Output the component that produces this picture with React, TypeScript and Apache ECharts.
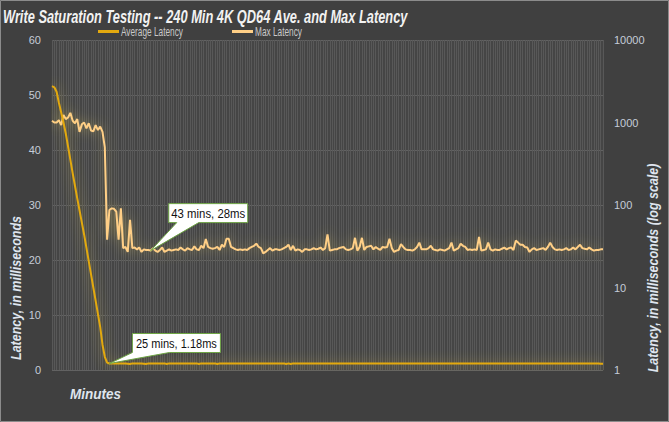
import React, { useEffect, useRef } from 'react';
import * as echarts from 'echarts';

const titleText = 'Write Saturation Testing -- 240 Min 4K QD64 Ave. and Max Latency';
const seriesNames = ['Average Latency', 'Max Latency'];
const leftTitle = 'Latency, in milliseconds';
const rightTitle = 'Latency, in milliseconds (log scale)';
const xTitle = 'Minutes';

// minute categories 0..240
const minutes: string[] = Array.from({ length: 241 }, (_, i) => String(i));

// Average latency (ms), left linear axis
const avgLatency: number[] = [
  51.6, 51.4, 50.6, 48.6, 46.8, 45.0, 43.0, 40.6, 38.2, 35.8,
  33.5, 31.2, 29.0, 26.8, 24.6, 22.2, 19.8, 17.4, 15.0, 12.6,
  10.2, 7.8, 4.6, 2.4, 1.35, 1.18,
  1.2, 1.2, 1.2, 1.2, 1.2, 1.2, 1.2, 1.15, 1.1, 1.2, 1.2, 1.2, 1.2, 1.2, 1.15, 1.1, 1.2, 1.2, 1.2, 1.2,
  1.2, 1.2, 1.2, 1.2, 1.1, 1.2, 1.2, 1.2, 1.2, 1.2, 1.2, 1.2, 1.2, 1.2, 1.2, 1.2, 1.2, 1.2, 1.1, 1.2,
  1.2, 1.2, 1.2, 1.2, 1.2, 1.2, 1.1, 1.2, 1.2, 1.2, 1.2, 1.2, 1.2, 1.2, 1.2, 1.2, 1.2, 1.2, 1.2, 1.2,
  1.2, 1.2, 1.2, 1.2, 1.2, 1.2, 1.2, 1.2, 1.2, 1.2, 1.2, 1.2, 1.2, 1.2, 1.2, 1.2, 1.1, 1.2, 1.1, 1.2,
  1.2, 1.2, 1.2, 1.2, 1.2, 1.2, 1.2, 1.2, 1.2, 1.2, 1.2, 1.2, 1.2, 1.2, 1.2, 1.2, 1.2, 1.2, 1.2, 1.2,
  1.2, 1.2, 1.2, 1.2, 1.2, 1.2, 1.2, 1.2, 1.2, 1.2, 1.2, 1.2, 1.2, 1.2, 1.2, 1.2, 1.2, 1.2, 1.2, 1.2,
  1.2, 1.2, 1.2, 1.2, 1.2, 1.2, 1.2, 1.2, 1.2, 1.2, 1.2, 1.2, 1.2, 1.2, 1.2, 1.2, 1.2, 1.2, 1.2, 1.2,
  1.2, 1.2, 1.2, 1.2, 1.2, 1.2, 1.2, 1.2, 1.2, 1.2, 1.2, 1.2, 1.2, 1.2, 1.2, 1.2, 1.2, 1.2, 1.2, 1.2,
  1.2, 1.2, 1.2, 1.2, 1.2, 1.2, 1.2, 1.2, 1.2, 1.2, 1.2, 1.2, 1.2, 1.2, 1.2, 1.2, 1.2, 1.2, 1.2, 1.2,
  1.2, 1.2, 1.2, 1.2, 1.2, 1.2, 1.2, 1.2, 1.2, 1.2, 1.2, 1.2, 1.2, 1.2, 1.2, 1.2, 1.2, 1.2, 1.2, 1.2,
  1.2, 1.2, 1.2, 1.2, 1.2, 1.2, 1.2, 1.2, 1.2, 1.2, 1.2, 1.2, 1.2, 1.15, 1.15,
];

// Max latency (ms), right log axis
const maxLatency: number[] = [
  1050, 1000, 1000, 1070, 930, 1230, 1100, 1150, 1310, 1050,
  980, 1100, 770, 950, 1000, 850, 980, 800, 780, 930,
  810, 890, 770, 500, 38, 87, 91, 90, 83, 38,
  91, 30, 31, 27, 66, 30, 30.5, 29, 30.5, 27,
  29, 28.5, 28.5, 28, 30, 28, 27, 28.5, 30.5, 27,
  28, 29, 28, 28.5, 29, 28.5, 30.5, 29, 28, 30,
  29, 28.5, 31.5, 29, 28.5, 32, 30, 38.7, 31, 30,
  29.5, 30, 31, 28.5, 33, 31, 39, 39, 31, 30,
  29, 28.5, 29, 28.5, 29, 28.5, 30, 31, 32, 34,
  31, 30, 26, 27, 28.5, 30, 28, 29, 29, 28.5,
  29, 30, 31, 33, 28.5, 32, 28, 29, 28.5, 27,
  29, 29, 28.5, 29, 30, 29, 29.5, 30.5, 28.5, 30,
  44, 28, 28.5, 29, 29, 30, 30.5, 31, 29, 28.5,
  29, 30, 40, 28, 31, 40, 28.5, 31, 31.5, 32,
  29, 31, 29.5, 28.5, 31, 30.5, 31, 39, 30, 27,
  28, 28.5, 33.5, 31, 29, 28.5, 28.5, 28, 29, 31,
  35, 29, 29, 29, 30, 32, 29, 28.5, 28, 29,
  28.5, 28, 29, 30, 35, 28, 29, 30, 34, 32,
  31, 28.5, 29, 28.5, 29, 28.5, 41, 28, 28.5, 29,
  35, 29, 28, 29, 28.5, 28.5, 29.5, 30.5, 29, 30,
  30.5, 28.5, 37, 35, 33, 33, 31, 30.5, 27, 29,
  30, 28.5, 29, 29.5, 30, 28.5, 31, 35, 31, 29,
  28.5, 29, 28.5, 29, 30, 28.5, 29, 30.5, 29, 31,
  33, 30, 29.5, 29, 30.5, 29, 28, 28.5, 28.5, 29,
  29,
];

const leftTicks = { min: 0, max: 60, interval: 10 };
const rightTicks = { min: 1, max: 10000 };

const avgCallout = { minute: 25, value: 1.18, label: '25 mins, 1.18ms' };
const maxCallout = { minute: 43, value: 28, label: '43 mins, 28ms' };

const FONT = "'Liberation Sans', Arial, sans-serif";
const AVG_COLOR = '#e3a90f';
const MAX_COLOR = '#ffcf86';
const CALLOUT_BORDER = '#6ea544';
const TITLE_COLOR = '#dfe5ee';

let measureCtx: CanvasRenderingContext2D | null = null;
function textWidth(text: string, font: string): number {
  if (!measureCtx) measureCtx = document.createElement('canvas').getContext('2d');
  if (!measureCtx) return text.length * 6;
  measureCtx.font = font;
  return measureCtx.measureText(text).width || text.length * 6;
}

// a text that is horizontally compressed to a target width (emulating a narrow font)
function fitText(text: string, font: string, target: number, x: number, y: number, fill: string, opts: any = {}) {
  const w = textWidth(text, font);
  return {
    type: 'text',
    x,
    y,
    scaleX: target / w,
    rotation: opts.rotation || 0,
    z: opts.z || 50,
    style: {
      text,
      fill,
      font,
      textAlign: opts.align || 'left',
      textVerticalAlign: 'middle',
    },
  };
}

export default function App() {
  const ref = useRef<HTMLDivElement>(null);
  useEffect(() => {
    document.body.style.margin = '0';
    const chart = echarts.init(ref.current!, null, { renderer: 'svg' });
    const option: any = {
      animation: false,
      backgroundColor: '#404040',
      grid: {
        left: 52,
        right: 66,
        top: 40,
        bottom: 52,
        show: true,
        backgroundColor: '#454545',
        borderWidth: 0,
      },
      xAxis: {
        type: 'category',
        data: minutes,
        boundaryGap: false,
        axisLabel: { show: false },
        axisTick: { show: false },
        axisLine: { show: false },
        splitLine: { show: true, interval: 0, lineStyle: { color: '#585858', width: 1 } },
      },
      yAxis: [
        {
          type: 'value',
          min: leftTicks.min,
          max: leftTicks.max,
          interval: leftTicks.interval,
          axisLine: { show: false },
          axisTick: { show: false },
          axisLabel: { color: '#c5ccd8', fontSize: 11, fontFamily: FONT, margin: 11 },
          splitLine: { show: true, lineStyle: { color: '#626262', width: 1 } },
        },
        {
          type: 'log',
          logBase: 10,
          min: rightTicks.min,
          max: rightTicks.max,
          axisLine: { show: false },
          axisTick: { show: false },
          axisLabel: {
            color: '#c5ccd8',
            fontSize: 11,
            fontFamily: FONT,
            margin: 11,
            formatter: (v: number) => String(Math.round(v)),
          },
          splitLine: { show: false },
          minorSplitLine: { show: false },
        },
      ],
      series: [
        {
          name: seriesNames[0],
          type: 'line',
          yAxisIndex: 0,
          data: avgLatency,
          showSymbol: false,
          symbol: 'none',
          lineStyle: {
            color: AVG_COLOR,
            width: 2,
            shadowColor: 'rgba(220, 195, 70, 0.65)',
            shadowBlur: 12,
          },
          itemStyle: { color: AVG_COLOR },
          z: 3,
        },
        {
          name: seriesNames[1],
          type: 'line',
          yAxisIndex: 1,
          data: maxLatency,
          showSymbol: false,
          symbol: 'none',
          lineStyle: {
            color: MAX_COLOR,
            width: 2,
            shadowColor: 'rgba(215, 195, 90, 0.55)',
            shadowBlur: 12,
          },
          itemStyle: { color: MAX_COLOR },
          z: 2,
        },
      ],
    };
    chart.setOption(option);

    const p1 = chart.convertToPixel({ xAxisIndex: 0, yAxisIndex: 1 } as any, [maxCallout.minute, maxCallout.value]) as number[];
    const p2 = chart.convertToPixel({ xAxisIndex: 0, yAxisIndex: 0 } as any, [avgCallout.minute, avgCallout.value]) as number[];

    const callout1 = (() => {
      const [tx, ty] = p1;
      const L = tx + 18, R = tx + 97, T = ty - 47, B = ty - 28;
      return [
        {
          type: 'polygon',
          shape: { points: [[L, T], [R, T], [R, B], [tx + 48, B], [tx, ty], [tx + 26, B], [L, B]] },
          style: { fill: '#ffffff', stroke: CALLOUT_BORDER, lineWidth: 1 },
          z: 100,
        },
        fitText(maxCallout.label, `13px ${FONT}`, 74, (L + R) / 2, (T + B) / 2 + 0.5, '#111111', { align: 'center', z: 101 }),
      ];
    })();

    const callout2 = (() => {
      const [tx, ty] = p2;
      const L = tx + 23, R = tx + 111, T = ty - 30, B = ty - 11;
      return [
        {
          type: 'polygon',
          shape: { points: [[L, T], [R, T], [R, B], [tx + 60, B], [tx, ty], [L, B]] },
          style: { fill: '#ffffff', stroke: CALLOUT_BORDER, lineWidth: 1 },
          z: 100,
        },
        fitText(avgCallout.label, `13px ${FONT}`, 81, (L + R) / 2, (T + B) / 2 + 0.5, '#111111', { align: 'center', z: 101 }),
      ];
    })();

    chart.setOption({
      graphic: [
        {
          type: 'rect',
          shape: { x: 0.5, y: 0.5, width: 668, height: 421 },
          style: { fill: 'none', stroke: '#8c8c8c', lineWidth: 1 },
          silent: true,
          z: 0,
        },
        // title
        fitText(titleText, `italic bold 18px ${FONT}`, 405, 3, 17, '#f2f2f2'),
        // legend
        { type: 'rect', shape: { x: 98, y: 30, width: 21, height: 3 }, style: { fill: AVG_COLOR }, z: 50 },
        fitText(seriesNames[0], `12px ${FONT}`, 62, 121, 31.5, '#c9c9c9'),
        { type: 'rect', shape: { x: 232, y: 30, width: 21, height: 3 }, style: { fill: MAX_COLOR }, z: 50 },
        fitText(seriesNames[1], `12px ${FONT}`, 47, 255, 31.5, '#c9c9c9'),
        // axis titles
        fitText(leftTitle, `italic bold 14px ${FONT}`, 144, 16, 288, TITLE_COLOR, { align: 'center', rotation: Math.PI / 2 }),
        fitText(rightTitle, `italic bold 14px ${FONT}`, 209, 653, 268, TITLE_COLOR, { align: 'center', rotation: Math.PI / 2 }),
        fitText(xTitle, `italic bold 15px ${FONT}`, 51, 70, 394, TITLE_COLOR),
        ...callout1,
        ...callout2,
      ],
    });

    return () => chart.dispose();
  }, []);
  return <div ref={ref} style={{ width: 669, height: 422 }} />;
}
